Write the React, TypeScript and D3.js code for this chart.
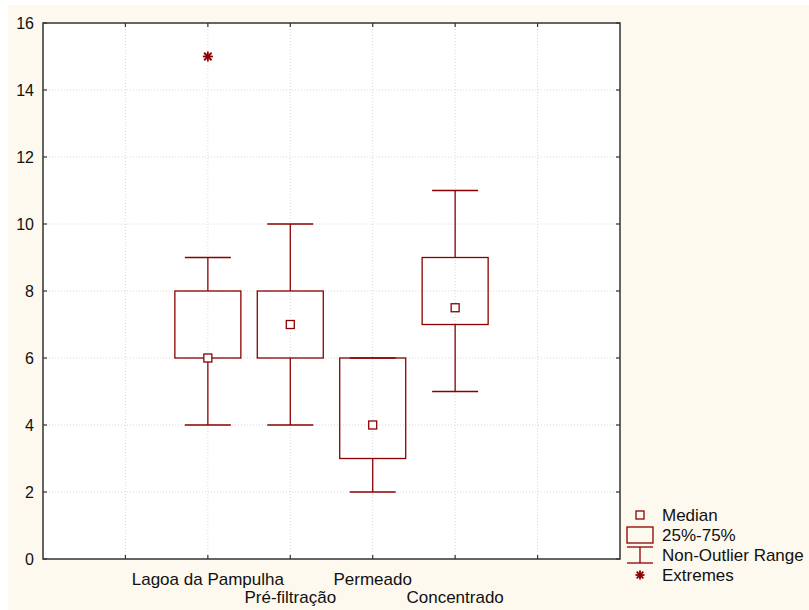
import React from 'react';
import { scaleLinear, range } from 'd3';

const categories = ['Lagoa da Pampulha', 'Pré-filtração', 'Permeado', 'Concentrado'];
const medians = [6, 7, 4, 7.5];
const q1 = [6, 6, 3, 7];
const q3 = [8, 8, 6, 9];
const whiskerLow = [4, 4, 2, 5];
const whiskerHigh = [9, 10, 6, 11];
const extremes = [[15], [], [], []];
const yTicks = [0, 2, 4, 6, 8, 10, 12, 14, 16];
const legendLabels = ['Median', '25%-75%', 'Non-Outlier Range', 'Extremes'];

const W = 809;
const H = 610;
const plot = { left: 43, right: 620, top: 23, bottom: 559 };
const red = '#8b0000';
const font = 'Arial, "Liberation Sans", sans-serif';

const Asterisk = ({ cx, cy, r }: { cx: number; cy: number; r: number }) => (
  <g stroke={red} strokeWidth={1.8}>
    <line x1={cx - r} y1={cy} x2={cx + r} y2={cy} />
    <line x1={cx} y1={cy - r} x2={cx} y2={cy + r} />
    <line x1={cx - r * 0.75} y1={cy - r * 0.75} x2={cx + r * 0.75} y2={cy + r * 0.75} />
    <line x1={cx - r * 0.75} y1={cy + r * 0.75} x2={cx + r * 0.75} y2={cy - r * 0.75} />
  </g>
);

const App = () => {
  const x = scaleLinear().domain([0, 7]).range([plot.left, plot.right]);
  const y = scaleLinear().domain([0, 16]).range([plot.bottom, plot.top]);
  const grid = range(1, 7);
  const boxW = 66;
  const capW = 46;
  const med = 8;

  return (
    <svg width={W} height={H} style={{ position: 'absolute', left: 0, top: 0 }} fontFamily={font}>
      <rect x={0} y={0} width={W} height={H} fill="#fff" />
      <rect x={8} y={5} width={W - 8} height={H - 5} fill="#fdf9ee" />
      <rect x={plot.left} y={plot.top} width={plot.right - plot.left} height={plot.bottom - plot.top} fill="#fff" />

      {/* dotted grid */}
      {yTicks.slice(1, -1).map(t => (
        <line key={'h' + t} x1={plot.left} x2={plot.right} y1={y(t)} y2={y(t)}
          stroke="#d8d8d8" strokeDasharray="1,2" />
      ))}
      {grid.map(g => (
        <line key={'v' + g} x1={x(g)} x2={x(g)} y1={plot.top} y2={plot.bottom}
          stroke="#d8d8d8" strokeDasharray="1,2" />
      ))}

      {/* frame + inward ticks */}
      <rect x={plot.left} y={plot.top} width={plot.right - plot.left} height={plot.bottom - plot.top}
        fill="none" stroke="#333" strokeWidth={1.5} />
      {yTicks.map(t => (
        <g key={'yt' + t} stroke="#333" strokeWidth={1.2}>
          <line x1={plot.left} x2={plot.left + 4} y1={y(t)} y2={y(t)} />
          <line x1={plot.right - 4} x2={plot.right} y1={y(t)} y2={y(t)} />
        </g>
      ))}
      {grid.map(g => (
        <g key={'xt' + g} stroke="#333" strokeWidth={1.2}>
          <line x1={x(g)} x2={x(g)} y1={plot.bottom} y2={plot.bottom - 4} />
          <line x1={x(g)} x2={x(g)} y1={plot.top} y2={plot.top + 4} />
        </g>
      ))}
      {yTicks.map(t => (
        <text key={'yl' + t} x={34} y={y(t)} dy="0.36em" textAnchor="end" fontSize={16} fill="#111">{t}</text>
      ))}

      {/* boxes */}
      {categories.map((c, i) => {
        const cx = x(i + 2);
        return (
          <g key={c} stroke={red} strokeWidth={1.3} fill="none">
            <line x1={cx} x2={cx} y1={y(q3[i])} y2={y(whiskerHigh[i])} />
            <line x1={cx} x2={cx} y1={y(q1[i])} y2={y(whiskerLow[i])} />
            <line x1={cx - capW / 2} x2={cx + capW / 2} y1={y(whiskerHigh[i])} y2={y(whiskerHigh[i])} />
            <line x1={cx - capW / 2} x2={cx + capW / 2} y1={y(whiskerLow[i])} y2={y(whiskerLow[i])} />
            <rect x={cx - boxW / 2} y={y(q3[i])} width={boxW} height={y(q1[i]) - y(q3[i])} />
            <rect x={cx - med / 2} y={y(medians[i]) - med / 2} width={med} height={med} fill="#fff" />
            {extremes[i].map(e => <Asterisk key={e} cx={cx} cy={y(e)} r={5} />)}
          </g>
        );
      })}

      {/* category labels, staggered */}
      {categories.map((c, i) => (
        <text key={'c' + c} x={x(i + 2)} y={i % 2 === 0 ? 585 : 603} textAnchor="middle" fontSize={17} fill="#111">{c}</text>
      ))}

      {/* legend */}
      <g stroke={red} strokeWidth={1.3} fill="none">
        <rect x={636} y={511} width={8} height={8} />
        <rect x={627} y={527} width={26} height={16} />
        <line x1={627} x2={653} y1={547} y2={547} />
        <line x1={640} x2={640} y1={547} y2={563} />
        <line x1={627} x2={653} y1={563} y2={563} />
      </g>
      <Asterisk cx={640} cy={575} r={4.5} />
      {legendLabels.map((l, i) => (
        <text key={l} x={662} y={515 + i * 20} dy="0.36em" fontSize={17} fill="#111">{l}</text>
      ))}
    </svg>
  );
};

export default App;
